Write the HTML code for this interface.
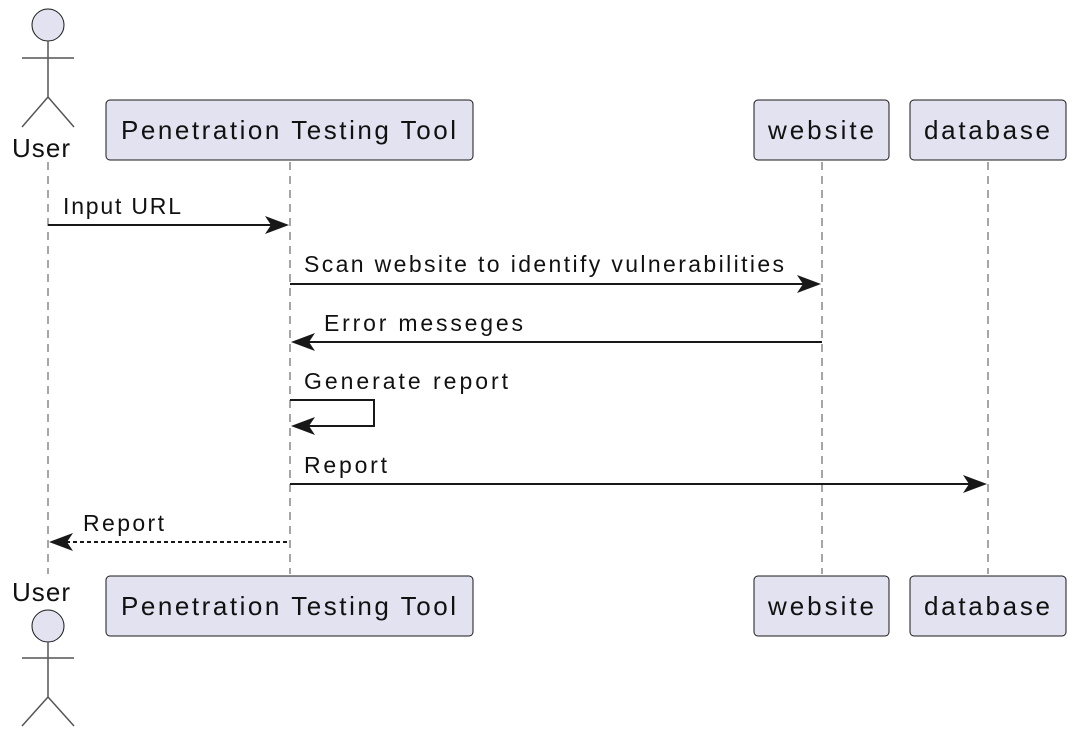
<!DOCTYPE html>
<html><head><style>html,body{margin:0;padding:0;background:#fff}svg{display:block}</style></head><body>
<svg width="1078" height="738" viewBox="0 0 1078 738" xmlns="http://www.w3.org/2000/svg" font-family="'Liberation Sans', sans-serif">
<g stroke="#888" stroke-width="1.5" stroke-dasharray="8,6">
<line x1="48" y1="162" x2="48" y2="574"/>
<line x1="290" y1="162" x2="290" y2="574"/>
<line x1="822" y1="162" x2="822" y2="574"/>
<line x1="988" y1="162" x2="988" y2="574"/>
</g>
<g fill="#e2e2f0" stroke="#181818" stroke-width="1">
<circle cx="48" cy="25" r="16"/>
<circle cx="48" cy="626" r="16"/>
<rect x="106" y="100" width="367" height="60" rx="4"/>
<rect x="754" y="100" width="135" height="60" rx="4"/>
<rect x="910" y="100" width="156" height="60" rx="4"/>
<rect x="106" y="576" width="367" height="60" rx="4"/>
<rect x="754" y="576" width="135" height="60" rx="4"/>
<rect x="910" y="576" width="156" height="60" rx="4"/>
</g>
<g stroke="#555" stroke-width="1.5" fill="none">
<path d="M48 41V97M22 58H74M22 127L48 97L74 127"/>
<path d="M48 642V697M22 658H74M22 726L48 697L74 726"/>
</g>
<g fill="#111" font-size="26">
<text x="12" y="157" textLength="58">User</text>
<text x="12" y="601" textLength="58">User</text>
<text x="121" y="139" textLength="335">Penetration Testing Tool</text>
<text x="121" y="615" textLength="335">Penetration Testing Tool</text>
<text x="768" y="139" textLength="106">website</text>
<text x="768" y="615" textLength="106">website</text>
<text x="924" y="139" textLength="126">database</text>
<text x="924" y="615" textLength="126">database</text>
</g>
<g fill="#111" font-size="23">
<text x="63" y="214" textLength="118">Input URL</text>
<text x="304" y="272" textLength="480">Scan website to identify vulnerabilities</text>
<text x="324" y="331" textLength="199">Error messeges</text>
<text x="304" y="389" textLength="204">Generate report</text>
<text x="304" y="473" textLength="83">Report</text>
<text x="83" y="531" textLength="81">Report</text>
</g>
<g stroke="#181818" stroke-width="2" fill="none">
<line x1="48" y1="225" x2="286" y2="225"/>
<line x1="290" y1="284" x2="818" y2="284"/>
<line x1="294" y1="342" x2="822" y2="342"/>
<path d="M290 400H374V426H294"/>
<line x1="290" y1="484" x2="984" y2="484"/>
<line x1="52" y1="542" x2="290" y2="542" stroke-dasharray="4,3"/>
</g>
<g fill="#181818">
<path d="M289 225L265 216L271 225L265 234Z"/>
<path d="M821 284L797 275L803 284L797 293Z"/>
<path d="M291 342L315 333L309 342L315 351Z"/>
<path d="M291 426L315 417L309 426L315 435Z"/>
<path d="M987 484L963 475L969 484L963 493Z"/>
<path d="M49 542L73 533L67 542L73 551Z"/>
</g>
</svg>
</body></html>
